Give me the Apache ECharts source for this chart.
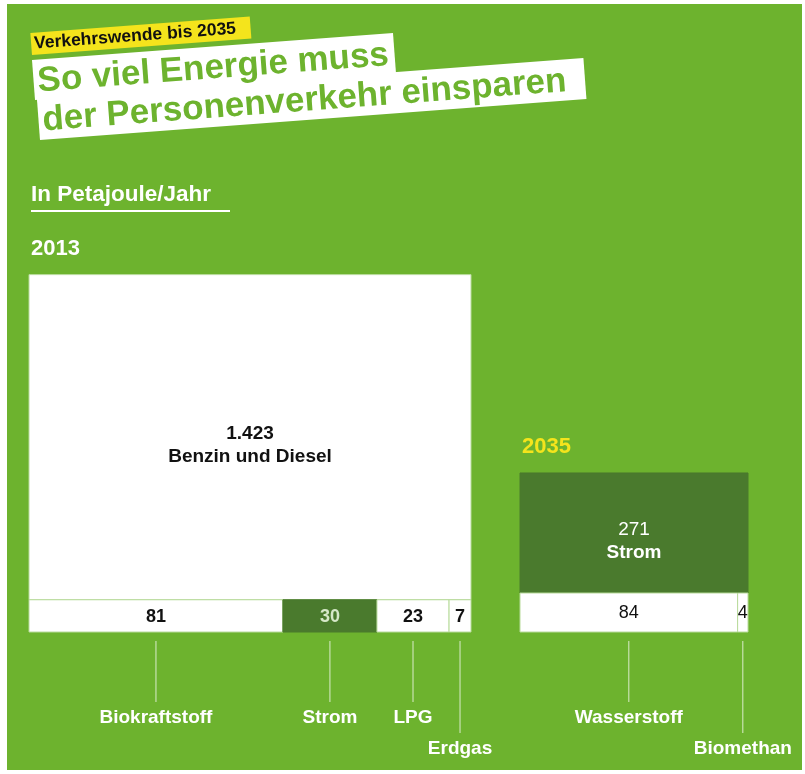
<!DOCTYPE html>
<html><head><meta charset="utf-8">
<script src="https://cdn.jsdelivr.net/npm/echarts@6/dist/echarts.min.js"></script>
<style>html,body{margin:0;padding:0;background:#fff}#c{width:805px;height:774px}</style>
</head><body><div id="c"></div>
<script>
// ---- data ----
const names2013 = ['Benzin und Diesel', 'Biokraftstoff', 'Strom', 'LPG', 'Erdgas'];
const values2013 = [1423, 81, 30, 23, 7];
const names2035 = ['Strom', 'Wasserstoff', 'Biomethan'];
const values2035 = [271, 84, 4];
const yearLabels = ['2013', '2035'];
const unitLabel = 'In Petajoule/Jahr';
const kicker = 'Verkehrswende bis 2035';
const titleLines = ['So viel Energie muss', 'der Personenverkehr einsparen'];

// ---- style / layout ----
const FONT = "'Liberation Sans', Arial, sans-serif";
const GREEN = '#6db32e', DARK = '#4a7a2d', YELLOW = '#f4e41c', CELLBORDER = '#b9db9c';
const layout = [
  { x0: 29, width: 442, yearColor: '#ffffff', valueWeight: 'bold' },
  { x0: 520, width: 228, yearColor: YELLOW, valueWeight: 'normal' }
];
const blocks = [
  { year: yearLabels[0], names: names2013, values: values2013 },
  { year: yearLabels[1], names: names2035, values: values2035 }
];

// slice-and-dice layout: first item = top row, rest share the bottom row
const cells = [];
blocks.forEach((b, bi) => {
  const L = layout[bi];
  const top = b.values[0];
  const rest = b.values.slice(1);
  const restSum = rest.reduce((a, c) => a + c, 0);
  const hb = restSum / L.width, ht = top / L.width;
  cells.push([L.x0, L.x0 + L.width, hb, hb + ht, top, b.names[0], 0, bi]);
  let x = L.x0;
  rest.forEach((v, i) => {
    const w = v / hb;
    cells.push([x, x + w, 0, hb, v, b.names[i + 1], 1, bi]);
    x += w;
  });
});

function renderItem(params, api) {
  const c = cells[params.dataIndex];
  const p0 = api.coord([api.value(0), api.value(3)]);
  const p1 = api.coord([api.value(1), api.value(2)]);
  const name = c[5], v = c[4], row = c[6], bi = c[7];
  const L = layout[bi];
  const dark = name === 'Strom';
  const w = p1[0] - p0[0], h = p1[1] - p0[1];
  const cx = (p0[0] + p1[0]) / 2, cy = (p0[1] + p1[1]) / 2;
  const label = v.toLocaleString('de-DE');
  const children = [{
    type: 'rect',
    shape: { x: p0[0], y: p0[1], width: w, height: h },
    style: { fill: dark ? DARK : '#ffffff', stroke: dark ? DARK : CELLBORDER, lineWidth: 1 }
  }];
  if (row === 0) {
    const fg = dark ? '#ffffff' : '#111111';
    children.push({
      type: 'text',
      style: {
        x: cx, y: cy + 8, align: 'center', verticalAlign: 'middle',
        text: '{v|' + label + '}\n{n|' + name + '}',
        rich: {
          v: { fontFamily: FONT, fontSize: 19, fontWeight: dark ? 'normal' : 'bold', fill: fg, lineHeight: 23, align: 'center' },
          n: { fontFamily: FONT, fontSize: 19, fontWeight: 'bold', fill: fg, lineHeight: 23, align: 'center' }
        }
      }
    });
    // year label above the block
    children.push({
      type: 'text',
      style: { x: p0[0] + 2, y: p0[1] - 26, text: blocks[bi].year, fontFamily: FONT, fontSize: 22,
        fontWeight: 'bold', fill: L.yearColor, align: 'left', verticalAlign: 'middle' }
    });
  } else {
    children.push({
      type: 'text',
      style: { x: cx, y: cy + 1, text: label, align: 'center', verticalAlign: 'middle',
        fontFamily: FONT, fontSize: 18, fontWeight: L.valueWeight,
        fill: dark ? '#d6e8c8' : '#111111' }
    });
    const stagger = w < 30;
    const yStart = p1[1] + 9;
    const yEnd = p1[1] + (stagger ? 101 : 70);
    children.push({
      type: 'line',
      shape: { x1: cx, y1: yStart, x2: cx, y2: yEnd },
      style: { stroke: 'rgba(255,255,255,0.75)', lineWidth: 1 }
    });
    children.push({
      type: 'text',
      style: { x: cx, y: yEnd + 16, text: name, align: 'center', verticalAlign: 'middle',
        fontFamily: FONT, fontSize: 19, fontWeight: 'bold', fill: '#ffffff' }
    });
  }
  return { type: 'group', children };
}

const ROT = 0.075;
const chart = echarts.init(document.getElementById('c'), null, { renderer: 'canvas' });
chart.setOption({
  animation: false,
  backgroundColor: '#ffffff',
  grid: { left: 0, right: 0, top: 26, bottom: 142 },
  xAxis: { type: 'value', min: 0, max: 805, show: false },
  yAxis: { type: 'value', min: 0, max: 6, show: false },
  graphic: [
    { type: 'rect', z: -10, shape: { x: 7, y: 4, width: 795, height: 766 }, style: { fill: GREEN } },
    { type: 'group', x: 32, y: 55, rotation: ROT, children: [
      { type: 'rect', shape: { x: 0, y: -22, width: 220, height: 22 }, style: { fill: YELLOW } },
      { type: 'text', style: { x: 3, y: -11, text: kicker, fontFamily: FONT, fontSize: 17.5, fontWeight: 'bold', fill: '#111', verticalAlign: 'middle' } }
    ]},
    { type: 'group', x: 35, y: 100, rotation: ROT, children: [
      { type: 'rect', shape: { x: 0, y: -40, width: 362, height: 40 }, style: { fill: '#ffffff' } },
      { type: 'text', style: { x: 4, y: -18, text: titleLines[0], fontFamily: FONT, fontSize: 35, fontWeight: 'bold', fill: GREEN, verticalAlign: 'middle' } }
    ]},
    { type: 'group', x: 40, y: 140, rotation: ROT, children: [
      { type: 'rect', shape: { x: 0, y: -41, width: 548, height: 41 }, style: { fill: '#ffffff' } },
      { type: 'text', style: { x: 4, y: -19, text: titleLines[1], fontFamily: FONT, fontSize: 35, fontWeight: 'bold', fill: GREEN, verticalAlign: 'middle' } }
    ]},
    { type: 'text', x: 31, y: 195, style: { text: unitLabel, fontFamily: FONT, fontSize: 22.5, fontWeight: 'bold', fill: '#ffffff', verticalAlign: 'middle' } },
    { type: 'rect', shape: { x: 31, y: 210, width: 199, height: 2 }, style: { fill: '#ffffff' } }
  ],
  series: [{
    type: 'custom',
    renderItem: renderItem,
    clip: false,
    encode: { x: [0, 1], y: [2, 3] },
    data: cells
  }]
});
</script>
</body></html>
